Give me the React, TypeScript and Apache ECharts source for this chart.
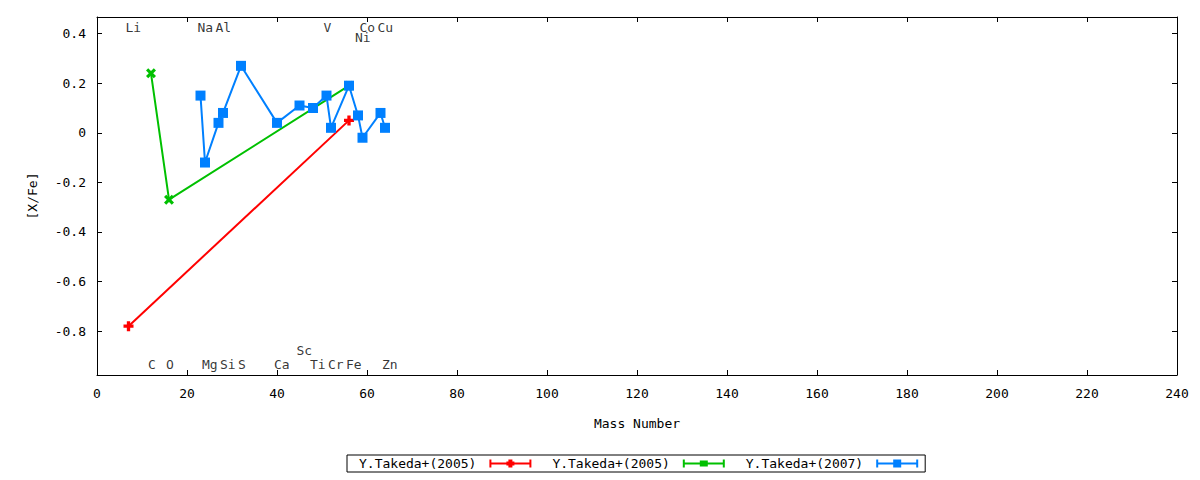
import React, { useEffect, useRef } from "react";
import * as echarts from "echarts";

// ---- data ----
const seriesNames = ["Y.Takeda+(2005)", "Y.Takeda+(2005)", "Y.Takeda+(2007)"];
const seriesColors = ["#ff0000", "#00c000", "#0080ff"];

const redMass = [7, 56];
const redValue = [-0.78, 0.05];

const greenMass = [12, 16, 56];
const greenValue = [0.24, -0.27, 0.19];

const blueMass = [23, 24, 27, 28, 32, 40, 45, 48, 51, 52, 56, 58, 59, 63, 64];
const blueValue = [0.15, -0.12, 0.04, 0.08, 0.27, 0.04, 0.11, 0.1, 0.15, 0.02, 0.19, 0.07, -0.02, 0.08, 0.02];

const elementNames = ["Li", "C", "O", "Na", "Mg", "Al", "Si", "S", "Ca", "Sc", "Ti", "V", "Cr", "Fe", "Co", "Ni", "Cu", "Zn"];
const elementMasses = [7, 12, 16, 23, 24, 27, 28, 32, 40, 45, 48, 51, 52, 56, 59, 58, 63, 64];
const elementLabelY = [0.424, -0.933, -0.933, 0.424, -0.933, 0.424, -0.933, -0.933, -0.933, -0.877, -0.933, 0.424, -0.933, -0.933, 0.424, 0.384, 0.424, -0.933];

const xTicks = [0, 20, 40, 60, 80, 100, 120, 140, 160, 180, 200, 220, 240];
const yTicks = [-0.8, -0.6, -0.4, -0.2, 0, 0.2, 0.4];

const FONT = "DejaVu Sans Mono";
const FS = 13;

const plusSymbol = "path://M3 0H6V3H9V6H6V9H3V6H0V3H3Z";
const xSymbol = "path://M0 2L2 0L4.5 2.5L7 0L9 2L6.5 4.5L9 7L7 9L4.5 6.5L2 9L0 7L2.5 4.5Z";

const legendIcons = [
  "path://M0 1H2V9H0ZM40 1H42V9H40ZM0 4H42V6H0ZM19 1H23V9H19ZM17 3H25V7H17Z",
  "path://M0 1H2V9H0ZM40 1H42V9H40ZM0 4H42V6H0ZM17 2H25V8H17Z",
  "path://M0 1H2V9H0ZM40 1H42V9H40ZM0 4H42V6H0ZM17 1H25V9H17Z",
];

const zip = (xs: number[], ys: number[]) => xs.map((x, i) => [x, ys[i]]);

export default function App() {
  const ref = useRef<HTMLDivElement>(null);
  useEffect(() => {
    if (!ref.current) return;
    const chart = echarts.init(ref.current, undefined, { renderer: "svg" });
    const yMin = -0.977;
    const yMax = 0.467;
    const axisLineStyle = { color: "#000", width: 1 };
    const fmtY = (v: number) => (Math.abs(v) < 1e-9 ? "0" : v.toFixed(1));
    const ids = ["s0", "s1", "s2"];
    const dataSets = [zip(redMass, redValue), zip(greenMass, greenValue), zip(blueMass, blueValue)];
    const symbols = [plusSymbol, xSymbol, "rect"];
    const symbolSizes = [10, 10, 10];

    const option: any = {
      animation: false,
      backgroundColor: "#fff",
      textStyle: { fontFamily: FONT },
      grid: { left: 97, right: 23, top: 17, bottom: 105, containLabel: false },
      legend: {
        left: 347,
        top: 455,
        orient: "horizontal",
        align: "right",
        padding: [2, 7, 2, 12],
        itemGap: 21,
        itemWidth: 42,
        itemHeight: 10,
        borderColor: "#000",
        borderWidth: 1,
        borderRadius: 0,
        selectedMode: false,
        textStyle: { fontFamily: FONT, fontSize: FS, color: "#000", padding: [0, 8, 0, 0] },
        formatter: (name: string) => seriesNames[ids.indexOf(name)],
        data: ids.map((id, i) => ({ name: id, icon: legendIcons[i], itemStyle: { color: seriesColors[i] } })),
      },
      xAxis: [
        {
          type: "value",
          min: 0,
          max: 240,
          interval: 20,
          position: "bottom",
          name: "Mass Number",
          nameLocation: "middle",
          nameGap: 42,
          nameTextStyle: { fontFamily: FONT, fontSize: FS, color: "#000" },
          axisLine: { show: true, onZero: false, lineStyle: axisLineStyle },
          axisTick: { show: true, inside: true, length: 5, lineStyle: axisLineStyle, customValues: xTicks },
          axisLabel: { show: true, margin: 12, fontFamily: FONT, fontSize: FS, color: "#000", customValues: xTicks },
          splitLine: { show: false },
        },
        {
          type: "value",
          min: 0,
          max: 240,
          interval: 20,
          position: "top",
          axisLine: { show: true, onZero: false, lineStyle: axisLineStyle },
          axisTick: { show: true, inside: true, length: 5, lineStyle: axisLineStyle, customValues: xTicks },
          axisLabel: { show: false },
          splitLine: { show: false },
        },
      ],
      yAxis: [
        {
          type: "value",
          min: yMin,
          max: yMax,
          position: "left",
          name: "[X/Fe]",
          nameLocation: "middle",
          nameRotate: 90,
          nameGap: 58,
          nameTextStyle: { fontFamily: FONT, fontSize: FS, color: "#000" },
          axisLine: { show: true, onZero: false, lineStyle: axisLineStyle },
          axisTick: { show: true, inside: true, length: 5, lineStyle: axisLineStyle, customValues: yTicks },
          axisLabel: { show: true, margin: 11, fontFamily: FONT, fontSize: FS, color: "#000", customValues: yTicks, formatter: fmtY },
          splitLine: { show: false },
        },
        {
          type: "value",
          min: yMin,
          max: yMax,
          position: "right",
          axisLine: { show: true, onZero: false, lineStyle: axisLineStyle },
          axisTick: { show: true, inside: true, length: 5, lineStyle: axisLineStyle, customValues: yTicks },
          axisLabel: { show: false },
          splitLine: { show: false },
        },
      ],
      series: [
        ...ids.map((id, i) => ({
          id,
          name: id,
          type: "line",
          xAxisIndex: 0,
          yAxisIndex: 0,
          data: dataSets[i],
          symbol: symbols[i],
          symbolSize: symbolSizes[i],
          showAllSymbol: true,
          lineStyle: { color: seriesColors[i], width: 2 },
          itemStyle: { color: seriesColors[i], borderWidth: 0 },
          emphasis: { disabled: true },
          z: 2 + i,
        })),
        {
          name: "elements",
          type: "scatter",
          xAxisIndex: 0,
          yAxisIndex: 0,
          symbolSize: 1,
          itemStyle: { color: "rgba(0,0,0,0)" },
          data: elementNames.map((n, i) => [elementMasses[i], elementLabelY[i], n]),
          label: {
            show: true,
            position: "inside",
            align: "left",
            verticalAlign: "middle",
            offset: [-3, 0],
            fontFamily: FONT,
            fontSize: FS,
            color: "#000",
            formatter: (p: any) => p.data[2],
          },
          emphasis: { disabled: true },
          silent: true,
          z: 10,
        },
      ],
    };
    chart.setOption(option);
    return () => chart.dispose();
  }, []);
  return (
    <div
      ref={ref}
      style={{ position: "fixed", left: 0, top: 0, width: 1200, height: 480, background: "#fff" }}
    />
  );
}
